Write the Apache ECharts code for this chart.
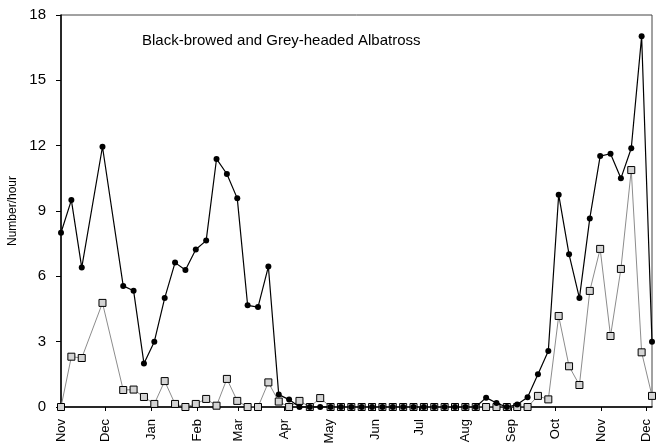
<!DOCTYPE html>
<html>
<head>
<meta charset="utf-8">
<script src="https://cdn.jsdelivr.net/npm/echarts@6/dist/echarts.min.js"></script>
<style>html,body{margin:0;padding:0;background:#fff}#c{width:659px;height:446px}</style>
</head>
<body>
<div id="c"></div>
<script>
// Survey weeks counted from 1 November (week 0)
var weekIndex = [0,1,2,4,6,7,8,9,10,11,12,13,14,15,16,17,18,19,20,21,22,23,24,25,26,27,28,29,30,31,32,33,34,35,36,37,38,39,40,41,42,43,44,45,46,47,48,49,50,51,52,53,54,55,56,57];
var blackBrowed = [8.0,9.5,6.4,11.95,5.56,5.34,2.0,3.0,5.0,6.63,6.29,7.23,7.64,11.39,10.7,9.58,4.67,4.59,6.45,0.57,0.34,0,0,0,0,0,0,0,0,0,0,0,0,0,0,0,0,0,0,0.43,0.18,0,0.11,0.45,1.5,2.57,9.75,7.01,5.0,8.66,11.52,11.63,10.5,11.88,17.02,3.0];
var greyHeaded = [0,2.31,2.25,4.78,0.78,0.8,0.46,0.14,1.19,0.14,0,0.14,0.37,0.06,1.29,0.28,0,0,1.13,0.25,0,0.28,0,0.41,0,0,0,0,0,0,0,0,0,0,0,0,0,0,0,0,0,0,0,0,0.51,0.35,4.18,1.87,1.01,5.33,7.26,3.26,6.34,10.88,2.51,0.51];
var monthNames = ['Jan','Feb','Mar','Apr','May','Jun','Jul','Aug','Sep','Oct','Nov','Dec'];
var yTicks = [0,3,6,9,12,15,18];

var DAY = 86400000;
var start = new Date(2001, 10, 1).getTime();
function dateOf(w){ var d = new Date(2001, 10, 1); d.setDate(d.getDate() + w*7); return d.getTime(); }
var blackData = weekIndex.map(function(w,i){ return [dateOf(w), blackBrowed[i]]; });
var greyData = weekIndex.map(function(w,i){ return [dateOf(w), greyHeaded[i]]; });

var chart = echarts.init(document.getElementById('c'), null, {renderer:'canvas'});
chart.setOption({
  animation:false,
  backgroundColor:'#fff',
  textStyle:{fontFamily:'Liberation Sans, Arial, sans-serif'},
  title:{text:'Black-browed and Grey-headed Albatross', left:137, top:28,
    textStyle:{fontSize:15, fontWeight:'normal', color:'#000', fontFamily:'Liberation Sans, Arial, sans-serif'}},
  grid:{left:61, right:7, top:15, bottom:39, show:true, borderColor:'#444', borderWidth:1,
    containLabel:false, outerBoundsMode:'none'},
  xAxis:{type:'time', min:start, max:dateOf(57),
    minInterval:28*DAY, maxInterval:31*DAY,
    axisLine:{lineStyle:{color:'#000', width:1.5}},
    axisTick:{show:true, length:4, lineStyle:{color:'#000'}},
    splitLine:{show:false},
    axisLabel:{rotate:90, margin:12, fontSize:13, color:'#000', hideOverlap:false,
      formatter:function(v){ return monthNames[new Date(v).getMonth()]; }}
  },
  yAxis:{type:'value', min:yTicks[0], max:yTicks[yTicks.length-1], interval:3,
    name:'Number/hour', nameLocation:'middle', nameGap:35,
    nameTextStyle:{fontSize:12, color:'#000'},
    axisLine:{show:true, lineStyle:{color:'#000', width:1.5}},
    axisTick:{show:true, length:5, lineStyle:{color:'#000'}},
    splitLine:{show:false},
    axisLabel:{fontSize:15, color:'#000', margin:15}
  },
  series:[
    {name:'Grey-headed', type:'line', data:greyData, symbol:'rect', symbolSize:7,
      lineStyle:{color:'#8c8c8c', width:1},
      itemStyle:{color:'#d4d4d4', borderColor:'#000', borderWidth:1}, z:2},
    {name:'Black-browed', type:'line', data:blackData, symbol:'circle', symbolSize:6,
      lineStyle:{color:'#000', width:1.2},
      itemStyle:{color:'#000'}, z:3}
  ]
});
</script>
</body>
</html>
